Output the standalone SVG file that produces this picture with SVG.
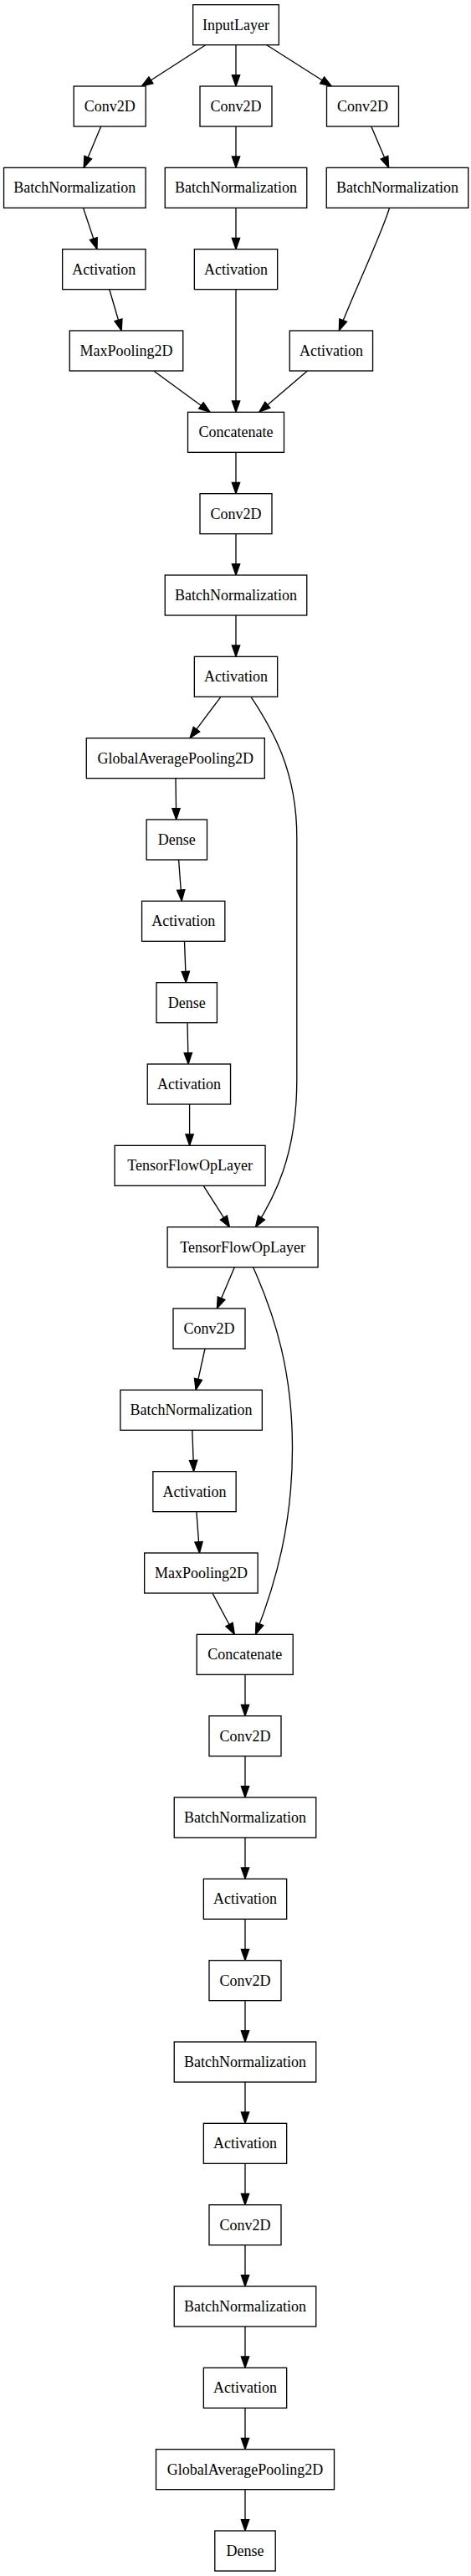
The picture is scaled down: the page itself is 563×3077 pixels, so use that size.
<svg xmlns="http://www.w3.org/2000/svg" width="563" height="3077" viewBox="0 0 563 3077">
<style>
.n rect{fill:#fff;stroke:#000;stroke-width:1.33}
.n text{font-family:"Liberation Serif","Times New Roman",serif;font-size:18px;text-anchor:middle;fill:#000}
.e path{fill:none;stroke:#000;stroke-width:1.33;marker-end:url(#ah)}
</style>
<defs>
<marker id="ah" markerWidth="16" markerHeight="12" refX="13.3" refY="4.67" orient="auto" markerUnits="userSpaceOnUse" overflow="visible"><path d="M0,0 L13.3,4.67 L0,9.33 Z" fill="#000" stroke="#000" stroke-width="1.33"/></marker>
</defs>
<rect width="563" height="3077" fill="#fff"/>
<g id="connectors" class="e">
<path d="M245.7,53.7 L169.3,103"/>
<path d="M282,53.7 L282,103"/>
<path d="M318.8,53.7 L396.3,103"/>
<path d="M120.7,151 L100.1,200.3"/>
<path d="M282,151 L282,200.3"/>
<path d="M443.8,151 L464.7,200.3"/>
<path d="M99.5,248.3 L116,297.7"/>
<path d="M282,248.3 L282,297.7"/>
<path d="M465.5,248.3 C458,275 425,345 405.3,395"/>
<path d="M130.8,345.7 L145.2,395"/>
<path d="M282,345.7 L282,492.3"/>
<path d="M183.7,443 L251.1,492.3"/>
<path d="M367.4,443 L309.8,492.3"/>
<path d="M282,540.3 L282,589.7"/>
<path d="M282,637.7 L282,687"/>
<path d="M282,735 L282,784.3"/>
<path d="M264,832.3 L227,881.7"/>
<path d="M300,832.3 C325,870 354.8,920 354.8,1000 L354.8,1290 C354.8,1380 328,1430 305.5,1465.7"/>
<path d="M210,929.7 L210.7,979"/>
<path d="M213.6,1027 L217.2,1076.3"/>
<path d="M220.5,1124.3 L222.3,1173.7"/>
<path d="M224,1221.7 L225.1,1271"/>
<path d="M226.6,1319 L226.6,1368.3"/>
<path d="M243.2,1416.3 L274.5,1465.7"/>
<path d="M280.3,1513.7 L259.4,1563"/>
<path d="M302.6,1513.7 C330,1575 349.5,1640 349.5,1730 C349.5,1820 330,1890 305.5,1952.3"/>
<path d="M245,1611 L234.1,1660.3"/>
<path d="M229.8,1708.3 L231.6,1757.7"/>
<path d="M234.9,1805.7 L238.5,1855"/>
<path d="M254,1903 L280.3,1952.3"/>
<path d="M293,2000.3 L293,2049.7"/>
<path d="M293,2097.7 L293,2147"/>
<path d="M293,2195 L293,2244.3"/>
<path d="M293,2292.3 L293,2341.7"/>
<path d="M293,2389.7 L293,2439"/>
<path d="M293,2487 L293,2536.3"/>
<path d="M293,2584.3 L293,2633.7"/>
<path d="M293,2681.7 L293,2731"/>
<path d="M293,2779 L293,2828.3"/>
<path d="M293,2876.3 L293,2925.7"/>
<path d="M293,2973.7 L293,3023"/>
</g>
<g id="n0" class="n"><rect x="230.65" y="5.67" width="102.7" height="48"/><text x="282" y="35.67">InputLayer</text></g>
<g id="n1" class="n"><rect x="88.2" y="103" width="86" height="48"/><text x="131.2" y="133">Conv2D</text></g>
<g id="n2" class="n"><rect x="239" y="103" width="86" height="48"/><text x="282" y="133">Conv2D</text></g>
<g id="n3" class="n"><rect x="390.5" y="103" width="86" height="48"/><text x="433.5" y="133">Conv2D</text></g>
<g id="n4" class="n"><rect x="4.55" y="200.33" width="169.5" height="48"/><text x="89.3" y="230.33">BatchNormalization</text></g>
<g id="n5" class="n"><rect x="197.25" y="200.33" width="169.5" height="48"/><text x="282" y="230.33">BatchNormalization</text></g>
<g id="n6" class="n"><rect x="390.25" y="200.33" width="169.5" height="48"/><text x="475" y="230.33">BatchNormalization</text></g>
<g id="n7" class="n"><rect x="74.65" y="297.67" width="99.3" height="48"/><text x="124.3" y="327.67">Activation</text></g>
<g id="n8" class="n"><rect x="232.35" y="297.67" width="99.3" height="48"/><text x="282" y="327.67">Activation</text></g>
<g id="n9" class="n"><rect x="83.25" y="395" width="135.5" height="48"/><text x="151" y="425">MaxPooling2D</text></g>
<g id="n10" class="n"><rect x="346.25" y="395" width="99.3" height="48"/><text x="395.9" y="425">Activation</text></g>
<g id="n11" class="n"><rect x="224.5" y="492.33" width="115" height="48"/><text x="282" y="522.33">Concatenate</text></g>
<g id="n12" class="n"><rect x="239" y="589.67" width="86" height="48"/><text x="282" y="619.67">Conv2D</text></g>
<g id="n13" class="n"><rect x="197.25" y="687" width="169.5" height="48"/><text x="282" y="717">BatchNormalization</text></g>
<g id="n14" class="n"><rect x="232.35" y="784.33" width="99.3" height="48"/><text x="282" y="814.33">Activation</text></g>
<g id="n15" class="n"><rect x="103.3" y="881.67" width="213" height="48"/><text x="209.8" y="911.67">GlobalAveragePooling2D</text></g>
<g id="n16" class="n"><rect x="175.1" y="979" width="72.4" height="48"/><text x="211.3" y="1009">Dense</text></g>
<g id="n17" class="n"><rect x="169.55" y="1076.33" width="99.3" height="48"/><text x="219.2" y="1106.33">Activation</text></g>
<g id="n18" class="n"><rect x="187" y="1173.67" width="72.4" height="48"/><text x="223.2" y="1203.67">Dense</text></g>
<g id="n19" class="n"><rect x="176.25" y="1271" width="99.3" height="48"/><text x="225.9" y="1301">Activation</text></g>
<g id="n20" class="n"><rect x="137.1" y="1368.33" width="180" height="48"/><text x="227.1" y="1398.33">TensorFlowOpLayer</text></g>
<g id="n21" class="n"><rect x="200.1" y="1465.67" width="180" height="48"/><text x="290.1" y="1495.67">TensorFlowOpLayer</text></g>
<g id="n22" class="n"><rect x="207" y="1563" width="86" height="48"/><text x="250" y="1593">Conv2D</text></g>
<g id="n23" class="n"><rect x="143.85" y="1660.33" width="169.5" height="48"/><text x="228.6" y="1690.33">BatchNormalization</text></g>
<g id="n24" class="n"><rect x="182.85" y="1757.67" width="99.3" height="48"/><text x="232.5" y="1787.67">Activation</text></g>
<g id="n25" class="n"><rect x="172.65" y="1855" width="135.5" height="48"/><text x="240.4" y="1885">MaxPooling2D</text></g>
<g id="n26" class="n"><rect x="235.2" y="1952.33" width="115" height="48"/><text x="292.7" y="1982.33">Concatenate</text></g>
<g id="n27" class="n"><rect x="250" y="2049.67" width="86" height="48"/><text x="293" y="2079.67">Conv2D</text></g>
<g id="n28" class="n"><rect x="208.25" y="2147" width="169.5" height="48"/><text x="293" y="2177">BatchNormalization</text></g>
<g id="n29" class="n"><rect x="243.35" y="2244.33" width="99.3" height="48"/><text x="293" y="2274.33">Activation</text></g>
<g id="n30" class="n"><rect x="250" y="2341.67" width="86" height="48"/><text x="293" y="2371.67">Conv2D</text></g>
<g id="n31" class="n"><rect x="208.25" y="2439" width="169.5" height="48"/><text x="293" y="2469">BatchNormalization</text></g>
<g id="n32" class="n"><rect x="243.35" y="2536.33" width="99.3" height="48"/><text x="293" y="2566.33">Activation</text></g>
<g id="n33" class="n"><rect x="250" y="2633.67" width="86" height="48"/><text x="293" y="2663.67">Conv2D</text></g>
<g id="n34" class="n"><rect x="208.25" y="2731" width="169.5" height="48"/><text x="293" y="2761">BatchNormalization</text></g>
<g id="n35" class="n"><rect x="243.35" y="2828.33" width="99.3" height="48"/><text x="293" y="2858.33">Activation</text></g>
<g id="n36" class="n"><rect x="186.5" y="2925.67" width="213" height="48"/><text x="293" y="2955.67">GlobalAveragePooling2D</text></g>
<g id="n37" class="n"><rect x="256.8" y="3023" width="72.4" height="48"/><text x="293" y="3053">Dense</text></g>
</svg>
